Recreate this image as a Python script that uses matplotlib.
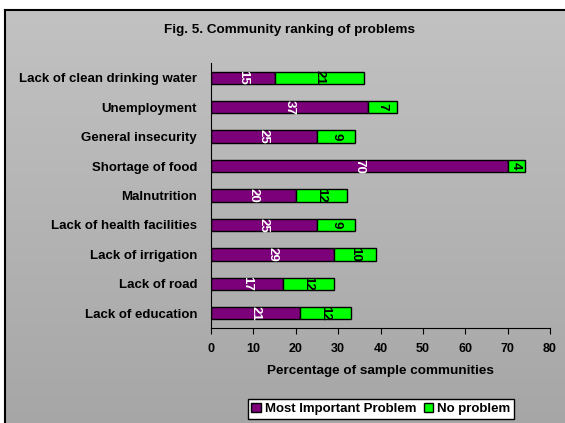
import numpy as np
import matplotlib.pyplot as plt
from matplotlib.patches import Patch
from matplotlib.colors import LinearSegmentedColormap

plt.rcParams['font.family'] = ['Liberation Sans', 'DejaVu Sans']

problems = ["Lack of education", "Lack of road", "Lack of irrigation",
            "Lack of health facilities", "Malnutrition", "Shortage of food",
            "General insecurity", "Unemployment", "Lack of clean drinking water"]
most_important = [21, 17, 29, 25, 20, 70, 25, 37, 15]
no_problem = [12, 12, 10, 9, 12, 4, 9, 7, 21]

purple = "#7c007a"
green = "#00ff00"

fig = plt.figure(figsize=(5.65, 4.23), dpi=100)

# gray gradient background with a black frame
bg = fig.add_axes([5 / 565, -0.01, 1.0, 1 - 10 / 423 + 0.01])
grad = np.linspace(0, 1, 256).reshape(-1, 1)
bg.imshow(grad, aspect="auto",
          cmap=LinearSegmentedColormap.from_list("g", ["#c2c2c2", "#a6a6a6"]),
          extent=[0, 1, 0, 1], origin="upper")
bg.set_xlim(0, 1)
bg.set_ylim(0, 1)
bg.set_xticks([])
bg.set_yticks([])
for s in bg.spines.values():
    s.set_linewidth(1.5)
    s.set_color("black")

ax = fig.add_axes([211 / 565, 1 - 328 / 423, 339 / 565, 265 / 423])
ax.patch.set_alpha(0)
y = np.arange(len(problems))
ax.barh(y, most_important, height=0.42, color=purple, edgecolor="black", linewidth=1)
ax.barh(y, no_problem, left=most_important, height=0.42, color=green,
        edgecolor="black", linewidth=1)

for i in range(len(problems)):
    a = most_important[i]
    b = no_problem[i]
    ax.text(a / 2, i, str(a), rotation=-90, ha="center", va="center",
            color="white", fontsize=9.5, fontweight="bold")
    ax.text(a + b / 2, i, str(b), rotation=-90, ha="center", va="center",
            color="black", fontsize=9.5, fontweight="bold")

ax.set_xlim(0, 80)
ax.set_ylim(-0.5, 8.5)
ax.set_xticks(range(0, 81, 10))
ax.set_yticks(y)
ax.set_yticklabels(problems, fontsize=9.5, fontweight="bold")
ax.tick_params(axis="y", length=0, pad=10)
ax.tick_params(axis="x", length=4, direction="out", pad=7)
for lab in ax.get_xticklabels():
    lab.set_fontweight("bold")
    lab.set_fontsize(9)
ax.spines["top"].set_visible(False)
ax.spines["right"].set_visible(False)
ax.set_xlabel("Percentage of sample communities", fontsize=9.7,
              fontweight="bold", labelpad=7)

fig.text(289 / 565, 1 - 30 / 423, "Fig. 5. Community ranking of problems",
         ha="center", va="center", fontsize=9.7, fontweight="bold")

handles = [Patch(facecolor=purple, edgecolor="black"),
           Patch(facecolor=green, edgecolor="black")]
fig.legend(handles, ["Most Important Problem", "No problem"],
           loc="center", bbox_to_anchor=(381 / 565, 1 - 409 / 423), ncol=2,
           prop={"weight": "bold", "size": 9.5}, frameon=True,
           fancybox=False, edgecolor="black", framealpha=1,
           handlelength=0.7, handleheight=0.7, handletextpad=0.3,
           columnspacing=0.6, borderpad=0.3, borderaxespad=0)

fig.savefig("out.png", dpi=100)
